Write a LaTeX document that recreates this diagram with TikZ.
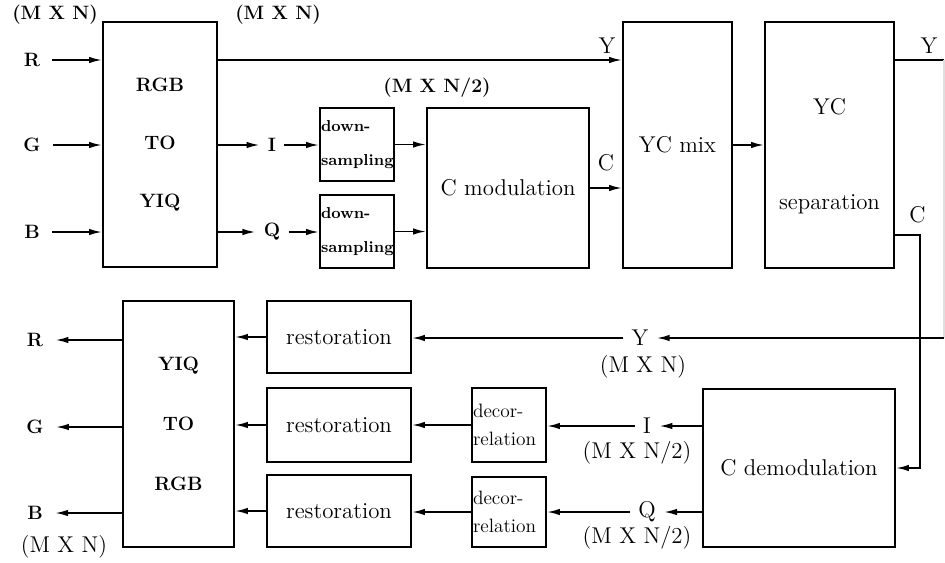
\documentclass[tikz,border=0pt]{standalone}
\usepackage{fontspec}
\usetikzlibrary{arrows.meta}

\newcommand{\bfs}{\bfseries\fontsize{11}{13}\selectfont}
\newcommand{\rms}{\fontsize{13}{15}\selectfont}

\begin{document}
\begin{tikzpicture}[x=0.2mm, y=-0.2mm,
	blk/.style={draw, line width=1.1pt, inner sep=0pt, align=center},
	arr/.style={-{Latex[length=2.6mm,width=1.3mm]}, line width=1pt},
	lin/.style={line width=1pt},
	sig/.style={inner xsep=1.6mm, inner ysep=0pt},
	io/.style={inner xsep=2.4mm, inner ysep=0pt, font=\bfs}]

\useasboundingbox (0,0) rectangle (945,562);

% Codificador
\node[blk, minimum width=22.8mm, minimum height=49mm, font=\bfseries\fontsize{11}{33}\selectfont] (rgb2yiq) at (160,144.5) {RGB\\TO\\YIQ};
\node[blk, minimum width=14.8mm, minimum height=14.6mm, align=left, text width=14.4mm, font=\bfseries\fontsize{9}{19}\selectfont] (ds1) at (357,144.5) {down-\\sampling};
\node[blk, minimum width=14.8mm, minimum height=14.6mm, align=left, text width=14.4mm, font=\bfseries\fontsize{9}{19}\selectfont] (ds2) at (357,231.5) {down-\\sampling};
\node[blk, minimum width=32.4mm, minimum height=32mm, font=\rms] (cmod) at (508,188) {C modulation};
\node[blk, minimum width=21.8mm, minimum height=49.2mm, font=\rms] (mix) at (677.5,145) {YC mix};
\node[blk, minimum width=25.8mm, minimum height=49.2mm, text height=76pt, text depth=3pt, font=\fontsize{13}{54}\selectfont] (sep) at (829.5,145) {YC\\separation};

\node[font=\bfs] (dimA) at (55,15) {(M X N)};
\node[font=\bfs] (dimB) at (278,15) {(M X N)};
\node[font=\bfs] (dimC) at (437,88) {(M X N/2)};

\node[io] (rin) at (32,60) {R};
\node[io] (gin) at (32,145) {G};
\node[io] (bin) at (32,232) {B};
	\foreach \n in {rin, gin, bin}
		\draw[arr] (\n) -- (\n -| rgb2yiq.west);

\node[sig, font=\bfs] (iin) at (272,145) {I};
\node[sig, font=\bfs] (qin) at (272,232) {Q};
	\foreach \n/\d in {iin/ds1, qin/ds2} {
		\draw[arr] (\n -| rgb2yiq.east) -- (\n);
		\draw[arr] (\n) -- (\n -| \d.west);
		\draw[arr] (\d) -- (\d -| cmod.west);
	}

\draw[arr] (rin -| rgb2yiq.east) -- (rin -| mix.west) node[pos=1, above left, font=\rms] {Y};
\draw[arr] (cmod) -- (cmod -| mix.west) node[midway, above=2mm, font=\rms] {C};
\draw[arr] (mix) -- (mix -| sep.west);

% Decodificador
\node[blk, minimum width=38.4mm, minimum height=31.6mm, font=\rms] (demod) at (799,468) {C demodulation};
\node[blk, minimum width=14.8mm, minimum height=14.8mm, align=left, text width=14.4mm, font=\fontsize{11}{16}\selectfont] (dec1) at (509,425) {decor-\\relation};
\node[blk, minimum width=14.8mm, minimum height=14mm, align=left, text width=14.4mm, font=\fontsize{11}{16}\selectfont] (dec2) at (509,512) {decor-\\relation};
\node[blk, minimum width=28.8mm, minimum height=14.4mm, font=\rms] (rest1) at (339,337) {restoration};
\node[blk, minimum width=28.8mm, minimum height=14.8mm, font=\rms] (rest2) at (339,425) {restoration};
\node[blk, minimum width=28.8mm, minimum height=14.4mm, font=\rms] (rest3) at (339,511) {restoration};
\node[blk, minimum width=22.2mm, minimum height=49.2mm, font=\bfseries\fontsize{11}{34}\selectfont] (yiq2rgb) at (178.5,424) {YIQ\\TO\\RGB};

% Canal
\coordinate (ya) at (944,60);
\coordinate (yb) at (944,338);
\coordinate (cc) at (920,235);
\draw[lin] (rin -| sep.east) -- (ya) node[pos=1, above left, font=\rms] {Y};
\draw[lin, gray!25] (ya) -- (yb);
\draw[arr] (cc -| sep.east) -- (cc) node[pos=0.9, above=1mm, font=\rms] {C} |- (demod.east);

\node[sig, font=\rms] (yret) at (640,338) {Y};
\node[font=\rms] (dimY) at (643,367) {(M X N)};
\draw[arr] (yb) -- (yret);
\draw[arr] (yret) -- (yret -| rest1.east);

\node[sig, font=\rms] (iret) at (647,426) {I};
\node[sig, font=\rms] (qret) at (647,512) {Q};
\node[font=\rms] (dimI) at (637,453) {(M X N/2)};
\node[font=\rms] (dimQ) at (637,538) {(M X N/2)};
	\foreach \n/\d/\r in {iret/dec1/rest2, qret/dec2/rest3} {
		\draw[arr] (\n -| demod.west) -- (\n);
		\draw[arr] (\n) -- (\n -| \d.east);
		\draw[arr] (\d) -- (\d -| \r.east);
	}

	\foreach \n in {rest1, rest2, rest3}
		\draw[arr] (\n) -- (\n -| yiq2rgb.east);

\node[io] (rout) at (35,340) {R};
\node[io] (gout) at (35,427) {G};
\node[io] (bout) at (35,513) {B};
	\foreach \n in {rout, gout, bout}
		\draw[arr] (\n -| yiq2rgb.west) -- (\n);

\node[font=\rms] (dimO) at (64,547) {(M X N)};
\end{tikzpicture}
\end{document}
